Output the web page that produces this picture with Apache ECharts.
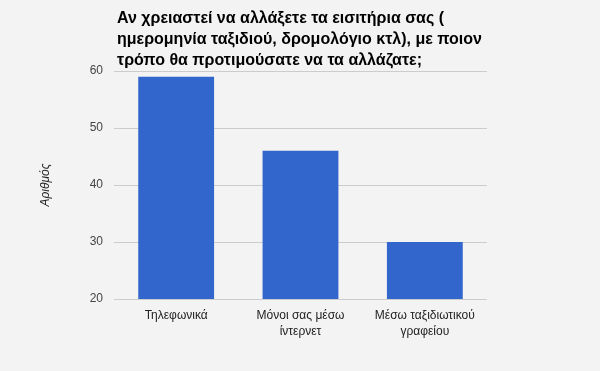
<!DOCTYPE html>
<html>
<head>
<meta charset="utf-8">
<script src="https://cdn.jsdelivr.net/npm/echarts@6/dist/echarts.min.js"></script>
<style>
html,body{margin:0;padding:0;background:#f3f3f3;}
#c{width:600px;height:371px;}
</style>
</head>
<body>
<div id="c"></div>
<script>
const titleText = "Αν χρειαστεί να αλλάξετε τα εισιτήρια σας (\nημερομηνία ταξιδιού, δρομολόγιο κτλ), με ποιον\nτρόπο θα προτιμούσατε να τα αλλάζατε;";
const categories = ["Τηλεφωνικά", "Μόνοι σας μέσω\nίντερνετ", "Μέσω ταξιδιωτικού\nγραφείου"];
const values = [59, 46, 30];
const yAxisName = "Αριθμός";
const yMin = 20, yMax = 60, yInterval = 10;

const chart = echarts.init(document.getElementById('c'), null, {renderer: 'canvas'});
chart.setOption({
  backgroundColor: '#f3f3f3',
  animation: false,
  title: {
    text: titleText,
    left: 112,
    top: 3,
    textStyle: {
      fontFamily: 'Liberation Sans, Arial, sans-serif',
      fontSize: 16,
      fontWeight: 'bold',
      color: '#000',
      lineHeight: 21
    }
  },
  grid: {left: 114, right: 113, top: 71, bottom: 72},
  xAxis: {
    type: 'category',
    data: categories,
    axisLine: {show: false},
    axisTick: {show: false},
    axisLabel: {
      fontFamily: 'Liberation Sans, Arial, sans-serif',
      fontSize: 12,
      color: '#222',
      margin: 9,
      lineHeight: 16,
      interval: 0
    }
  },
  yAxis: {
    type: 'value',
    min: yMin,
    max: yMax,
    interval: yInterval,
    name: yAxisName,
    nameLocation: 'middle',
    nameGap: 62,
    nameRotate: 90,
    nameTextStyle: {
      fontFamily: 'Liberation Sans, Arial, sans-serif',
      fontSize: 12,
      fontStyle: 'italic',
      color: '#222'
    },
    axisLine: {show: false},
    axisTick: {show: false},
    axisLabel: {
      fontFamily: 'Liberation Sans, Arial, sans-serif',
      fontSize: 12,
      color: '#444',
      margin: 11
    },
    splitLine: {lineStyle: {color: '#cccccc', width: 1}}
  },
  series: [{
    type: 'bar',
    data: values,
    barWidth: '61%',
    itemStyle: {color: '#3366cc'}
  }]
});
</script>
</body>
</html>
